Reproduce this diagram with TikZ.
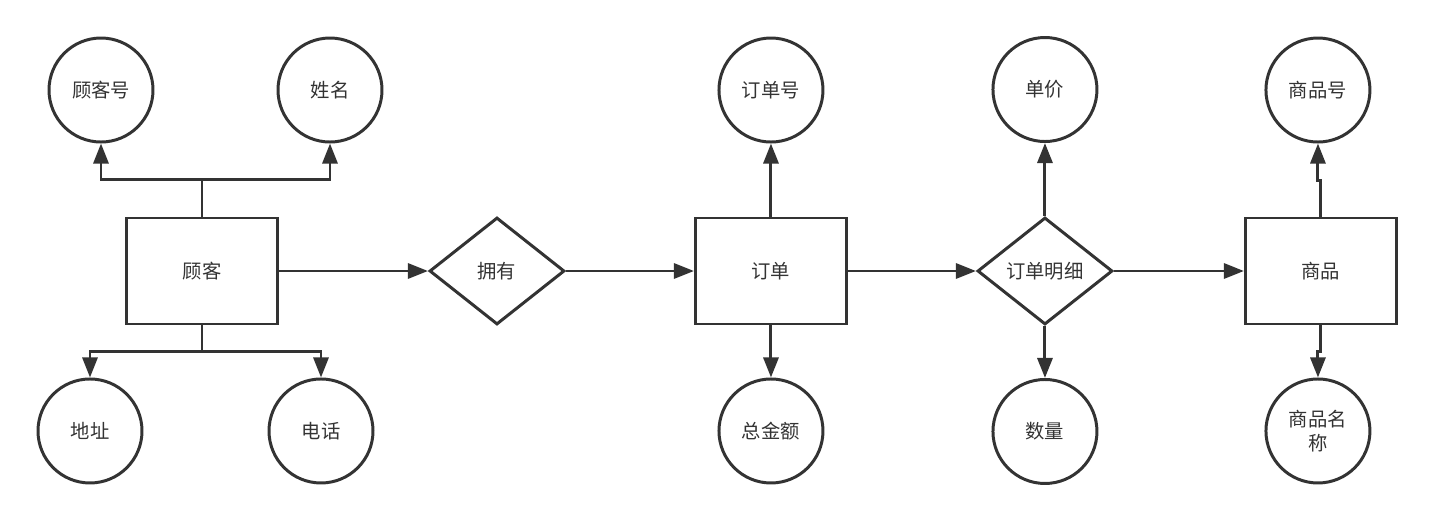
\documentclass[tikz,border=0pt]{standalone}
\usepackage{fontspec}
\usepackage{xcolor}
\usetikzlibrary{shapes.geometric, arrows.meta, positioning}
\newfontfamily\cjk{Noto Sans CJK SC}
\definecolor{inkgray}{RGB}{51, 51, 51}
\tikzset{
    entity/.style={rectangle, draw=inkgray, line width=1.7pt, minimum width=3.02cm, minimum height=2.12cm, text centered, font=\cjk\fontsize{11}{14}\selectfont, text=inkgray},
    relation/.style={diamond, draw=inkgray, line width=1.7pt, minimum width=2.7cm, minimum height=2.14cm, inner sep=0pt, text centered, font=\cjk\fontsize{11}{14}\selectfont, text=inkgray},
    attr/.style={circle, draw=inkgray, line width=1.7pt, minimum size=2.08cm, inner sep=0pt, align=center, font=\cjk\fontsize{11}{14}\selectfont, text=inkgray},
    link/.style={draw=inkgray, line width=1.7pt, -{Triangle[length=0.4cm, width=0.3cm]}}
}
\begin{document}
\begin{tikzpicture}[node distance=1.46cm and 2.6cm]

        \useasboundingbox (0,0) rectangle (28.66,10.38);

        % entities and relations
        \node [entity] (customer) at (4.04,4.96) {顾客};
        \node [relation, right=2.98cm of customer] (own) {拥有};
        \node [entity, right=2.56cm of own] (order) {订单};
        \node [relation, right=2.56cm of order] (detail) {订单明细};
        \node [entity, right=2.6cm of detail] (product) {商品};

        % attributes
        \node [attr, above=of customer, xshift=-2.02cm] (custid) {顾客号};
        \node [attr, above=of customer, xshift=2.56cm] (name) {姓名};
        \node [attr, below=1.04cm of customer, xshift=-2.24cm] (address) {地址};
        \node [attr, below=1.04cm of customer, xshift=2.38cm] (phone) {电话};
        \node [attr, above=of order] (orderid) {订单号};
        \node [attr, below=1.04cm of order] (total) {总金额};
        \node [attr, above=of detail] (price) {单价};
        \node [attr, below=1.04cm of detail] (amount) {数量};
        \node [attr, above=of product, xshift=-0.06cm] (prodid) {商品号};
        \node [attr, below=1.04cm of product, xshift=-0.06cm] (prodname) {商品名\\称};

        % bend points
        \coordinate (custtop) at ([yshift=0.74cm]customer.north);
        \coordinate (custbot) at ([yshift=-0.52cm]customer.south);
        \coordinate (prodtop) at ([yshift=0.72cm]product.north);
        \coordinate (prodbot) at ([yshift=-0.52cm]product.south);

        % Paths
        \draw [link] (customer) -- (own);
        \draw [link] (own) -- (order);
        \draw [link] (order) -- (detail);
        \draw [link] (detail) -- (product);

        \draw [link] (customer.north) -- (custtop) -| (custid);
        \draw [link] (custtop) -| (name);
        \draw [link] (customer.south) -- (custbot) -| (address);
        \draw [link] (custbot) -| (phone);

        \draw [link] (order) -- (orderid);
        \draw [link] (order) -- (total);
        \draw [link] (detail) -- (price);
        \draw [link] (detail) -- (amount);

        \draw [link] (product.north) -- (prodtop) -| (prodid);
        \draw [link] (product.south) -- (prodbot) -| (prodname);

    \end{tikzpicture}
\end{document}
